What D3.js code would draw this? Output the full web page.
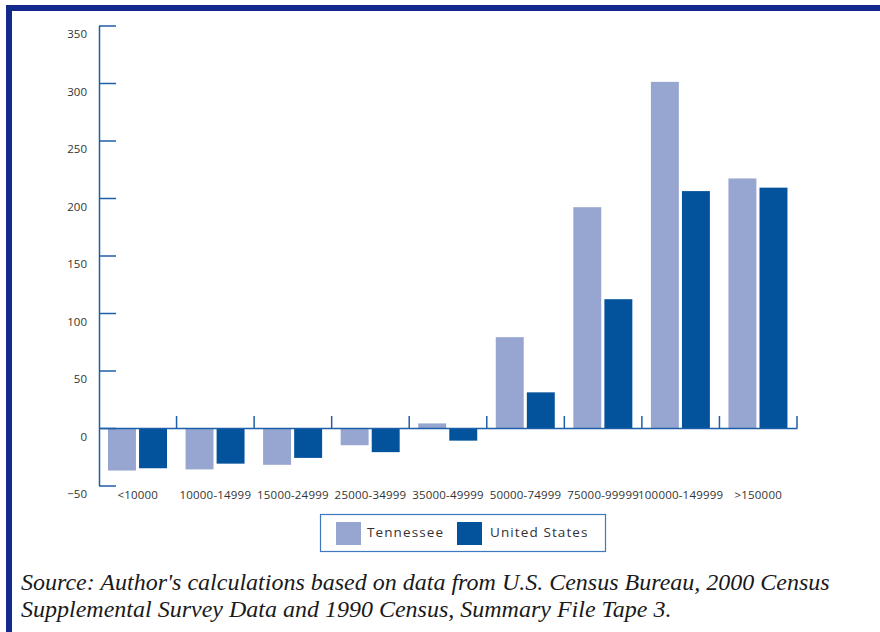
<!DOCTYPE html>
<html>
<head>
<meta charset="utf-8">
<script src="https://cdn.jsdelivr.net/npm/d3@7"></script>
<style>
  body { margin: 0; background: #fff; }
  svg { display: block; }
</style>
</head>
<body>
<div id="chart"></div>
<script>
// income brackets
var categories = ["<10000", "10000-14999", "15000-24999", "25000-34999", "35000-49999",
                  "50000-74999", "75000-99999", "100000-149999", ">150000"];
var series = ["Tennessee", "United States"];
var tennessee = [-37, -36, -32, -15, 4, 79, 192, 301, 217];
var unitedStates = [-35, -31, -26, -21, -11, 31, 112, 206, 209];
var yTicks = [-50, 0, 50, 100, 150, 200, 250, 300, 350];
var colors = ["#96a6d0", "#02529c"];
var sourceLines = ["Source: Author's calculations based on data from U.S. Census Bureau, 2000 Census",
                   "Supplemental Survey Data and 1990 Census, Summary File Tape 3."];

var W = 880, H = 632;
var svg = d3.select("#chart").append("svg")
    .attr("width", W)
    .attr("height", H);

// frame (top and left bars only)
svg.append("rect").attr("x", 6).attr("y", 5).attr("width", W - 6).attr("height", 6).attr("fill", "#13298b");
svg.append("rect").attr("x", 6).attr("y", 5).attr("width", 6).attr("height", H - 5).attr("fill", "#13298b");

var axisColor = "#1f5ea8";

var x = d3.scaleBand().domain(categories).range([99, 797]);
var xSub = d3.scaleBand().domain(series).range([9, 68]).paddingInner(0.1);
var y = d3.scaleLinear().domain([-50, 350]).range([485.5, 25.5]);

var rows = categories.map(function(c, i){
    return {cat: c, vals: [tennessee[i], unitedStates[i]]};
});

// bars
var groups = svg.append("g").selectAll("g")
    .data(rows)
    .enter().append("g")
    .attr("transform", function(d){ return "translate(" + x(d.cat) + ",0)"; });

groups.selectAll("rect")
    .data(function(d){ return d.vals.map(function(v, k){ return {s: series[k], v: v, k: k}; }); })
    .enter().append("rect")
    .attr("x", function(d){ return xSub(d.s); })
    .attr("width", xSub.bandwidth())
    .attr("y", function(d){ return y(Math.max(0, d.v)); })
    .attr("height", function(d){ return Math.abs(y(d.v) - y(0)); })
    .attr("fill", function(d){ return colors[d.k]; });

// y axis, ticks pointing right
var yAxis = d3.axisLeft(y)
    .tickValues(yTicks)
    .tickSize(-17)
    .tickSizeOuter(0)
    .tickPadding(12);

var gy = svg.append("g")
    .attr("transform", "translate(99,0)")
    .call(yAxis);
gy.select(".domain").attr("stroke", axisColor).attr("stroke-width", 1.5);
gy.selectAll(".tick line").attr("stroke", axisColor).attr("stroke-width", 1.5);
gy.selectAll(".tick text")
    .attr("dy", "1.05em")
    .attr("fill", "#333")
    .style("font-family", "'Open Sans', sans-serif")
    .style("font-size", "11.5px");

// x axis along zero
var xAxis = d3.axisBottom(x).tickSize(0).tickSizeOuter(0).tickPadding(63);
var gx = svg.append("g")
    .attr("transform", "translate(0," + y(0) + ")")
    .call(xAxis);
gx.select(".domain").attr("stroke", axisColor).attr("stroke-width", 1.5);
gx.selectAll(".tick text")
    .attr("fill", "#333")
    .style("font-family", "'Open Sans', sans-serif")
    .style("font-size", "11.5px")
    .style("letter-spacing", "0.2px");

// boundary ticks pointing up
var bounds = categories.slice(1).map(function(c){ return x(c); }).concat([x.range()[1]]);
svg.append("g").selectAll("line")
    .data(bounds)
    .enter().append("line")
    .attr("x1", function(d){ return d; })
    .attr("x2", function(d){ return d; })
    .attr("y1", y(0) - 12)
    .attr("y2", y(0))
    .attr("stroke", axisColor)
    .attr("stroke-width", 1.5);

// legend
var legend = svg.append("g");
legend.append("rect")
    .attr("x", 320.5).attr("y", 514.5)
    .attr("width", 285).attr("height", 37)
    .attr("fill", "#fff")
    .attr("stroke", "#3f78bf")
    .attr("stroke-width", 1.2);
var legX = [336, 457];
series.forEach(function(s, k){
    legend.append("rect")
        .attr("x", legX[k]).attr("y", 522)
        .attr("width", 25).attr("height", 23)
        .attr("fill", colors[k]);
    legend.append("text")
        .attr("x", legX[k] + 31 + (k ? 2 : 0))
        .attr("y", 537)
        .attr("fill", "#333")
        .style("font-family", "'Open Sans', sans-serif")
        .style("font-size", "13.5px")
        .style("letter-spacing", "1.1px")
        .text(s);
});

// source note
svg.append("g").selectAll("text")
    .data(sourceLines)
    .enter().append("text")
    .attr("x", 21)
    .attr("y", function(d, i){ return 590 + i * 27; })
    .attr("fill", "#1a1a1a")
    .style("font-family", "'Liberation Serif', 'Times New Roman', serif")
    .style("font-style", "italic")
    .style("font-size", "24px")
    .text(function(d){ return d; });
</script>
</body>
</html>
